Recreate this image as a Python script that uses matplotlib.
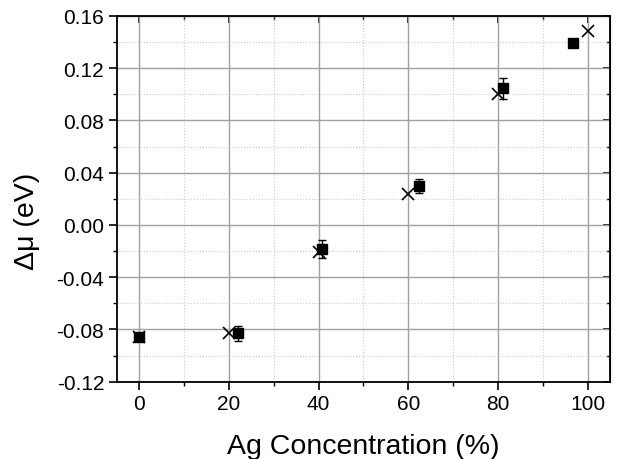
import matplotlib
matplotlib.use("Agg")
import matplotlib.pyplot as plt
from matplotlib.ticker import MultipleLocator

plt.rcParams['font.family'] = ['Liberation Sans', 'DejaVu Sans']

# experimental (squares with error bars)
exp_x = [0, 22, 40.7, 62.4, 81.2, 96.8]
exp_y = [-0.0856, -0.083, -0.0184, 0.030, 0.1046, 0.139]
exp_err = [0.002, 0.0059, 0.007, 0.0055, 0.0079, 0.0]

# calculated (crosses)
calc_x = [0, 20, 40, 60, 80, 100]
calc_y = [-0.086, -0.083, -0.0205, 0.0237, 0.1003, 0.1488]

xticks = [0, 20, 40, 60, 80, 100]
yticks = [-0.12, -0.08, -0.04, 0.00, 0.04, 0.08, 0.12, 0.16]

fig = plt.figure(figsize=(6.2, 4.6), dpi=100)
ax = fig.add_axes([116.7/620, 1 - 382.7/460, (610-116.7)/620, (382.7-17)/460])

ax.set_xlim(-5, 105)
ax.set_ylim(-0.12, 0.16)
ax.set_xticks(xticks)
ax.set_yticks(yticks)
ax.set_yticklabels([f"{v:.2f}" for v in yticks])
ax.xaxis.set_minor_locator(MultipleLocator(10))
ax.yaxis.set_minor_locator(MultipleLocator(0.02))

ax.grid(True, which='major', color='#a0a0a0', linewidth=1.0, linestyle='-')
ax.grid(True, which='minor', color='#cccccc', linewidth=0.8, linestyle=':')
ax.set_axisbelow(True)

ax.errorbar(exp_x, exp_y, yerr=exp_err, fmt='s', color='black', markersize=6.5,
            capsize=3, elinewidth=1, capthick=1, zorder=3)
ax.plot(calc_x, calc_y, 'x', color='black', markersize=9, markeredgewidth=1.2, zorder=4)

for s in ax.spines.values():
    s.set_linewidth(1.3)

ax.tick_params(axis='both', which='major', labelsize=15, direction='out', length=6, width=1.2,
               pad=3, top=False, right=False)
ax.tick_params(axis='both', which='minor', direction='out', length=3, width=1)

# inward ticks on top and right
axt = ax.secondary_xaxis('top')
axt.set_xticks(xticks)
axt.xaxis.set_minor_locator(MultipleLocator(10))
axt.tick_params(which='major', direction='in', length=5, width=1.2, labeltop=False)
axt.tick_params(which='minor', direction='in', length=3, width=1)
axt.set_xticklabels([])
axr = ax.secondary_yaxis('right')
axr.set_yticks(yticks)
axr.yaxis.set_minor_locator(MultipleLocator(0.02))
axr.tick_params(which='major', direction='in', length=5, width=1.2)
axr.tick_params(which='minor', direction='in', length=3, width=1)
axr.set_yticklabels([])

ax.set_xlabel('Ag Concentration (%)', fontsize=20.5, labelpad=14)
ax.set_ylabel('Δμ (eV)', fontsize=20.5)
ax.yaxis.set_label_coords(-0.155, 0.44)

fig.savefig('out.png', dpi=100)
